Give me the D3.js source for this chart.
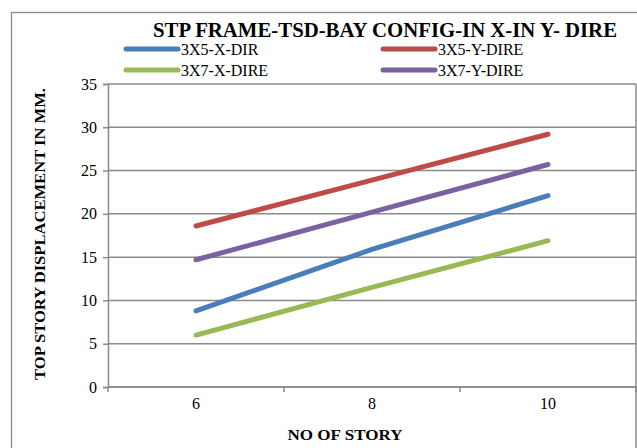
<!DOCTYPE html>
<html>
<head>
<meta charset="utf-8">
<script src="https://cdn.jsdelivr.net/npm/d3@7"></script>
<style>
  html, body { margin: 0; padding: 0; background: #fff; }
  svg { display: block; }
  text { font-family: "Liberation Serif", "Times New Roman", serif; fill: #000; }
</style>
</head>
<body>
<svg id="chart" width="637" height="448"></svg>
<script>
const categories = ["6", "8", "10"];
const seriesNames = ["3X5-X-DIR", "3X5-Y-DIRE", "3X7-X-DIRE", "3X7-Y-DIRE"];
const s3x5X = [8.8, 15.9, 22.1];
const s3x5Y = [18.6, 23.9, 29.2];
const s3x7X = [6.0, 11.5, 16.9];
const s3x7Y = [14.7, 20.2, 25.7];
const yTicks = [0, 5, 10, 15, 20, 25, 30, 35];
const colors = ["#4A7EBB", "#BE4B48", "#98B954", "#7D60A0"];
const title = "STP FRAME-TSD-BAY CONFIG-IN X-IN Y- DIRE";
const xTitle = "NO OF STORY";
const yTitle = "TOP STORY DISPLACEMENT IN MM.";

const seriesValues = [s3x5X, s3x5Y, s3x7X, s3x7Y];

const svg = d3.select("#chart");
const L = 108, R = 636, T = 84, B = 387;
const grid = "#8a8a8a";

// outer chart border
svg.append("rect").attr("x", 11.5).attr("y", 12.5).attr("width", 640).attr("height", 450)
  .attr("fill", "none").attr("stroke", grid).attr("stroke-width", 1.3);
// right plot edge line
svg.append("line").attr("x1", R).attr("x2", R).attr("y1", T).attr("y2", 448)
  .attr("stroke", grid).attr("stroke-width", 1.5);

const x = d3.scaleBand().domain(categories).range([L, R]).padding(0);
const y = d3.scaleLinear().domain([0, 35]).range([B, T]);

// gridlines
svg.append("g").selectAll("line").data(yTicks).join("line")
  .attr("x1", L).attr("x2", R)
  .attr("y1", d => y(d)).attr("y2", d => y(d))
  .attr("stroke", grid).attr("stroke-width", 1.5);

// y axis
const yAxis = d3.axisLeft(y).tickValues(yTicks).tickSize(5).tickPadding(6);
const gy = svg.append("g").attr("transform", `translate(${L},0)`).call(yAxis);
gy.select(".domain").attr("stroke", grid).attr("stroke-width", 1.5);
gy.selectAll(".tick line").attr("stroke", grid).attr("stroke-width", 1.5);
gy.selectAll(".tick text").attr("font-size", 16).attr("font-family", "Liberation Serif").attr("fill", "#000");

// x axis line
svg.append("line").attr("x1", L).attr("x2", R).attr("y1", B).attr("y2", B)
  .attr("stroke", grid).attr("stroke-width", 1.5);
// x ticks at band boundaries
const bounds = categories.map(c => x(c)).concat([x(categories[categories.length - 1]) + x.bandwidth()]);
svg.append("g").selectAll("line").data(bounds).join("line")
  .attr("x1", d => d).attr("x2", d => d).attr("y1", B).attr("y2", B + 5)
  .attr("stroke", grid).attr("stroke-width", 1.5);
svg.append("g").selectAll("text").data(categories).join("text")
  .attr("x", d => x(d) + x.bandwidth() / 2).attr("y", B + 22)
  .attr("text-anchor", "middle").attr("font-size", 16).text(d => d);

// lines
const line = d3.line()
  .x((d, i) => x(categories[i]) + x.bandwidth() / 2)
  .y(d => y(d));
svg.append("g").selectAll("path").data(seriesValues).join("path")
  .attr("d", d => line(d))
  .attr("fill", "none")
  .attr("stroke", (d, i) => colors[i])
  .attr("stroke-width", 5)
  .attr("stroke-linecap", "round")
  .attr("stroke-linejoin", "round");

// title
svg.append("text").attr("x", 153).attr("y", 37)
  .attr("font-size", 21).attr("font-weight", "bold")
  .attr("textLength", 464).attr("lengthAdjust", "spacingAndGlyphs")
  .text(title);

// legend
const legendPos = [[124, 49], [381, 49], [124, 70], [381, 70]];
const lg = svg.append("g").selectAll("g").data(seriesNames).join("g")
  .attr("transform", (d, i) => `translate(${legendPos[i][0]},${legendPos[i][1]})`);
lg.append("line").attr("x1", 2).attr("x2", 54).attr("y1", 0).attr("y2", 0)
  .attr("stroke", (d, i) => colors[i]).attr("stroke-width", 5).attr("stroke-linecap", "round");
lg.append("text").attr("x", 57).attr("y", 5.5).attr("font-size", 16).text(d => d);

// axis titles
svg.append("text").attr("x", 345).attr("y", 440).attr("text-anchor", "middle")
  .attr("font-size", 14).attr("font-weight", "bold")
  .attr("textLength", 115).attr("lengthAdjust", "spacingAndGlyphs")
  .text(xTitle);
svg.append("text").attr("transform", "translate(45,234) rotate(-90)")
  .attr("text-anchor", "middle").attr("font-size", 14).attr("font-weight", "bold")
  .attr("textLength", 292).attr("lengthAdjust", "spacingAndGlyphs")
  .text(yTitle);
</script>
</body>
</html>
